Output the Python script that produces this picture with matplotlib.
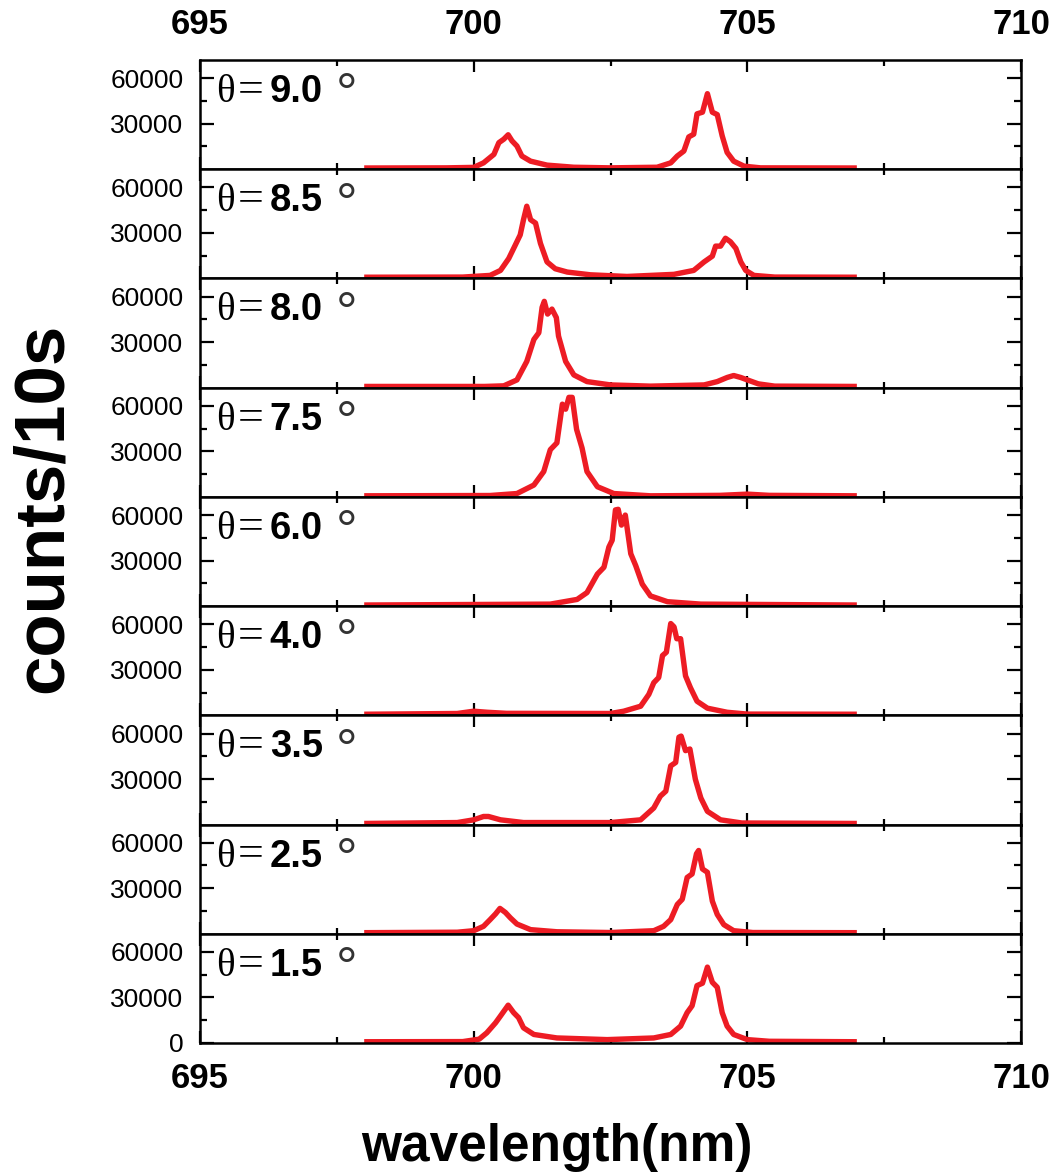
import matplotlib
matplotlib.use("Agg")
import matplotlib.pyplot as plt
from matplotlib.ticker import MultipleLocator

plt.rcParams['font.family'] = ['Liberation Sans', 'DejaVu Sans']

# angles, top panel first
angles = ["9.0", "8.5", "8.0", "7.5", "6.0", "4.0", "3.5", "2.5", "1.5"]

wl_9_0 = [698.0, 699.5, 700.0, 700.18, 700.37, 700.46, 700.55, 700.63, 700.70, 700.79, 700.88, 701.04,
          701.34, 701.83, 702.5, 703.35, 703.6, 703.72, 703.84, 703.93, 704.02, 704.08, 704.18, 704.27,
          704.36, 704.45, 704.54, 704.63, 704.75, 704.94, 705.24, 707.0]
cts_9_0 = [800, 900, 1200, 4200, 9800, 17500, 19800, 22700, 18700, 15300, 8700, 5300,
           2700, 1300, 900, 1300, 4200, 8700, 12000, 21300, 23100, 36500, 37600, 49800,
           37600, 36000, 22000, 11100, 5300, 2000, 900, 800]

wl_8_5 = [698.0, 699.8, 700.30, 700.49, 700.64, 700.76, 700.85, 700.91, 700.97, 701.04, 701.13, 701.22,
          701.34, 701.49, 701.71, 702.13, 702.8, 703.66, 704.02, 704.21, 704.36, 704.42, 704.51, 704.60,
          704.69, 704.79, 704.88, 704.97, 705.12, 705.5, 707.0]
cts_8_5 = [800, 900, 2000, 5300, 13100, 22000, 28700, 38700, 47600, 38700, 36500, 23100,
           10900, 6400, 4200, 2400, 1300, 2700, 5300, 10900, 14700, 21300, 21300, 26500,
           24200, 19800, 10900, 5300, 2000, 900, 800]

wl_8_0 = [698.0, 700.2, 700.55, 700.79, 700.97, 701.10, 701.19, 701.25, 701.29, 701.35, 701.43, 701.51,
          701.55, 701.68, 701.83, 702.07, 702.5, 703.23, 704.21, 704.45, 704.63, 704.75, 704.88, 705.0,
          705.2, 705.5, 707.0]
cts_8_0 = [800, 800, 1200, 5100, 17300, 31800, 36200, 52900, 56900, 48500, 51800, 46200,
           34000, 17300, 8400, 4000, 1800, 1000, 1800, 4000, 6700, 8000, 6700, 5100,
           2500, 1000, 800]

wl_7_5 = [698.0, 700.3, 700.79, 701.10, 701.28, 701.40, 701.52, 701.62, 701.68, 701.74, 701.80, 701.88,
          701.98, 702.07, 702.26, 702.56, 703.23, 704.5, 705.0, 705.4, 707.0]
cts_7_5 = [700, 900, 2200, 7800, 16700, 31100, 35600, 61100, 57800, 65600, 65600, 44500,
           32200, 16700, 6700, 2200, 700, 1000, 1800, 1000, 700]

wl_6_0 = [698.0, 701.40, 701.89, 702.07, 702.26, 702.38, 702.47, 702.53, 702.59, 702.64, 702.70, 702.77,
          702.87, 702.96, 703.08, 703.23, 703.54, 704.15, 707.0]
cts_6_0 = [700, 1300, 4400, 8900, 21100, 25600, 38900, 43400, 63400, 63800, 53400, 60000,
           34500, 26700, 14500, 6700, 2900, 1300, 700]

wl_4_0 = [698.0, 699.7, 700.0, 700.25, 700.6, 702.5, 702.74, 703.05, 703.20, 703.29, 703.38, 703.45,
          703.52, 703.60, 703.66, 703.71, 703.78, 703.87, 703.96, 704.08, 704.27, 704.63, 705.0, 707.0]
cts_4_0 = [700, 1200, 2700, 2000, 1300, 1200, 2700, 6000, 13800, 21500, 24900, 39400,
           41600, 60500, 58300, 50500, 50500, 26000, 18200, 9300, 4700, 2000, 800, 700]

wl_3_5 = [698.0, 699.7, 700.0, 700.18, 700.27, 700.49, 700.91, 702.5, 703.05, 703.29, 703.41, 703.51,
          703.60, 703.69, 703.75, 703.79, 703.87, 703.95, 704.05, 704.15, 704.27, 704.51, 704.9, 707.0]
cts_3_5 = [700, 1300, 3100, 5300, 5300, 3100, 1300, 1300, 3100, 10900, 18700, 22000,
           38700, 40900, 57600, 58300, 48700, 49800, 29800, 17500, 8700, 3100, 1000, 700]

wl_2_5 = [698.0, 699.7, 700.0, 700.18, 700.30, 700.40, 700.48, 700.58, 700.67, 700.79, 701.04, 701.52,
          702.5, 703.29, 703.47, 703.60, 703.72, 703.81, 703.90, 703.99, 704.07, 704.11, 704.18, 704.27,
          704.36, 704.45, 704.57, 704.75, 705.1, 707.0]
cts_2_5 = [700, 1000, 2000, 4900, 9300, 13100, 16700, 14000, 10500, 6400, 2700, 1300,
           800, 2000, 4900, 9300, 19300, 22700, 37100, 39400, 52700, 54900, 42700, 40500,
           21500, 12700, 6000, 2000, 800, 700]

wl_1_5 = [698.0, 699.8, 700.1, 700.24, 700.40, 700.49, 700.63, 700.73, 700.82, 700.91, 701.10, 701.52,
          702.44, 703.29, 703.60, 703.78, 703.90, 703.99, 704.08, 704.18, 704.27, 704.36, 704.45, 704.54,
          704.63, 704.75, 705.0, 705.4, 707.0]
cts_1_5 = [800, 900, 2500, 6700, 13300, 17800, 24900, 20000, 16700, 10000, 5600, 3300,
           2200, 3300, 5600, 11100, 20000, 24500, 37800, 39400, 50000, 40000, 36700, 20000,
           11100, 5600, 2200, 1100, 800]

spectra = [(wl_9_0, cts_9_0), (wl_8_5, cts_8_5), (wl_8_0, cts_8_0), (wl_7_5, cts_7_5),
           (wl_6_0, cts_6_0), (wl_4_0, cts_4_0), (wl_3_5, cts_3_5), (wl_2_5, cts_2_5),
           (wl_1_5, cts_1_5)]

fig, axes = plt.subplots(9, 1, sharex=True, figsize=(10.57, 11.72), dpi=100)
fig.subplots_adjust(left=0.1892, right=0.966, top=0.9488, bottom=0.1101, hspace=0)

n = len(axes)
for i, ax in enumerate(axes):
    wl, cts = spectra[i]
    ax.plot(wl, cts, color='#ed1c24', lw=3.9, solid_joinstyle='round', solid_capstyle='butt')
    ax.set_xlim(695, 710)
    ax.set_ylim(0, 72000)
    ax.xaxis.set_major_locator(MultipleLocator(5))
    ax.xaxis.set_minor_locator(MultipleLocator(2.5))
    if i == n - 1:
        ax.set_yticks([0, 30000, 60000])
    else:
        ax.set_yticks([30000, 60000])
    ax.set_yticks([15000, 45000], minor=True)
    for s in ax.spines.values():
        s.set_linewidth(1.8)
    ax.tick_params(which='both', direction='in', top=True, right=True, width=1.6)
    ax.tick_params(axis='x', which='major', length=8.5, pad=14,
                   labelbottom=(i == n - 1), labeltop=(i == 0), labelsize=25)
    ax.tick_params(axis='x', which='minor', length=4.5)
    ax.tick_params(axis='y', which='major', length=10, pad=12, labelsize=19)
    ax.tick_params(axis='y', which='minor', length=5)
    for lab in ax.get_xticklabels():
        lab.set_fontweight('bold')

    # panel label: theta = <angle> deg
    ax.text(0.020, 0.615, '\u03b8', family='Liberation Serif', fontsize=28,
            transform=ax.transAxes, va='baseline', ha='left')
    ax.text(0.046, 0.615, '=', family='Liberation Serif', fontsize=33,
            transform=ax.transAxes, va='baseline', ha='left')
    ax.text(0.085, 0.615, angles[i], fontsize=27.5, fontweight='bold',
            transform=ax.transAxes, va='baseline', ha='left')
    ax.text(0.165, 0.53, '\u00b0', fontsize=39, color='#333333',
            transform=ax.transAxes, va='baseline', ha='left')

fig.text(0.527, 0.0213, 'wavelength(nm)', fontsize=37, fontweight='bold', ha='center', va='center')
fig.text(0.0416, 0.5666, 'counts/10s', fontsize=51, fontweight='bold', rotation=90,
         ha='center', va='center')

fig.savefig('out.png', dpi=100)
